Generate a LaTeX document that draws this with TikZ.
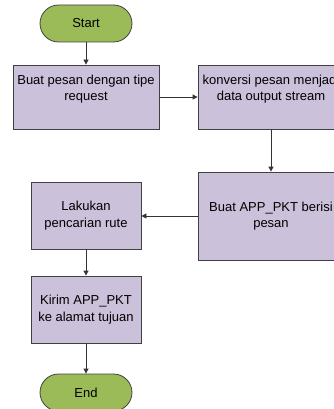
\documentclass[tikz,border=0pt]{standalone}
\usepackage{fontspec}
\setmainfont{Liberation Sans}
\usetikzlibrary{arrows.meta}
\definecolor{termfill}{HTML}{9BBB59}
\definecolor{procfill}{HTML}{CCC1DA}
\definecolor{edge}{HTML}{404040}
\begin{document}
\begin{tikzpicture}[x=1pt,y=-1pt,
  font=\fontsize{13}{16.5}\selectfont,
  terminal/.style={draw=edge, line width=0.8pt, fill=termfill, rounded corners=18.5pt,
    minimum width=92pt, minimum height=37pt, inner sep=0pt, align=center},
  procbox/.style={draw=edge, line width=0.8pt, fill=procfill,
    inner sep=0pt, align=center},
  caption/.style={inner sep=0pt, align=center},
  flow/.style={draw=black!80, line width=0.8pt, -{Triangle[length=5pt,width=5pt]}}]
\useasboundingbox (0,0) rectangle (334,409);
\clip (0,0) rectangle (334,409);
\node[terminal] (start) at (86,23.5) {Start};
% top row: text sits in the upper part of the boxes
\node[procbox, minimum width=146pt, minimum height=64pt] (b1) at (86,97) {};
\node[caption] (b1t) at (86,89) {Buat pesan dengan tipe\\request};
\node[procbox, minimum width=146pt, minimum height=64pt] (b2) at (271,97) {};
\node[caption] (b2t) at (271,89) {konversi pesan menjadi\\data output stream};
\node[procbox, minimum width=146pt, minimum height=88pt] (b3) at (271,216) {Buat APP\_PKT berisi\\pesan};
\node[procbox, minimum width=110pt, minimum height=67pt] (b4) at (86,215.5) {Lakukan\\pencarian rute};
\node[procbox, minimum width=110pt, minimum height=67pt] (b5) at (86,309.5) {Kirim APP\_PKT\\ke alamat tujuan};
\node[terminal] (stop) at (86,392.5) {End};
\draw[flow] (start) -- (b1);
\draw[flow] (b1) -- (b2);
\draw[flow] (b2) -- (b3);
\draw[flow] (b3.west) -- (b4.east |- b3.west);
\draw[flow] (b4) -- (b5);
\draw[flow] (b5) -- (stop);
\end{tikzpicture}
\end{document}
